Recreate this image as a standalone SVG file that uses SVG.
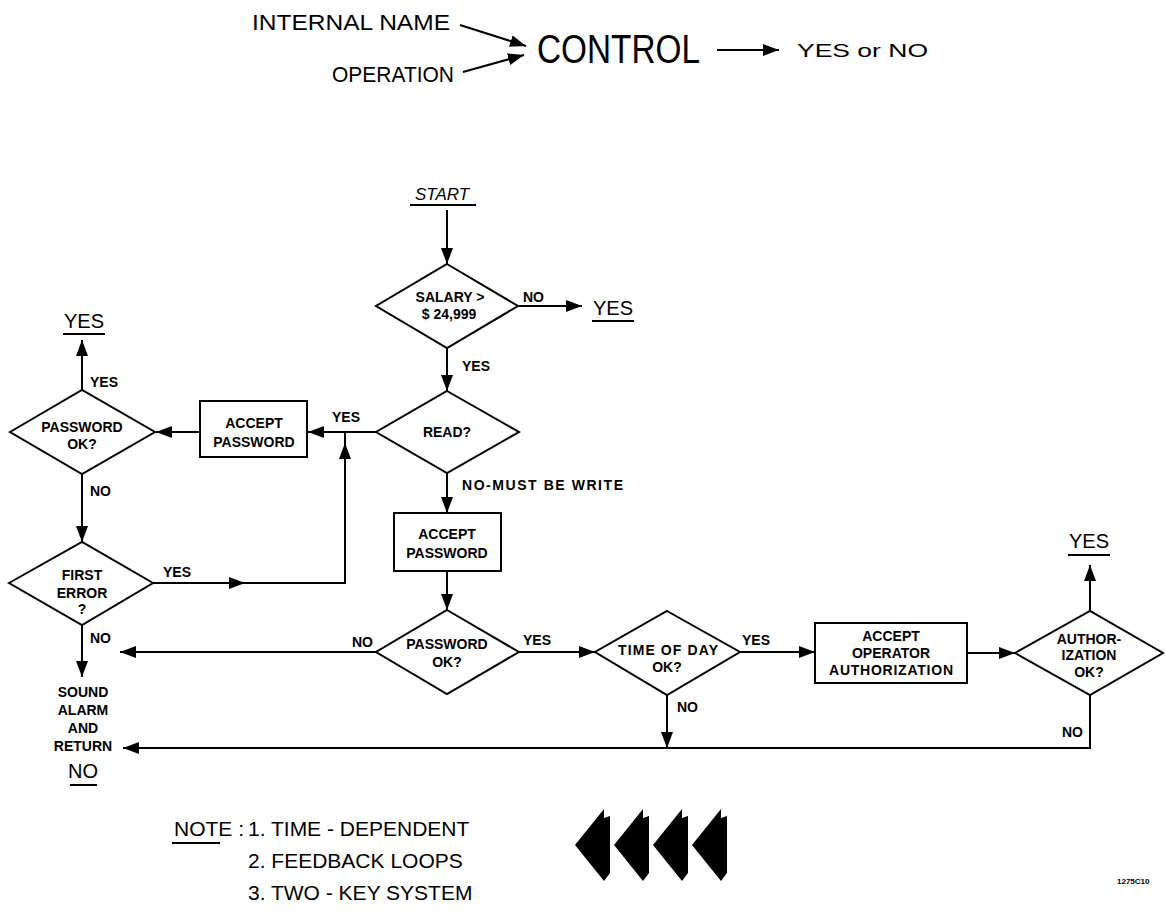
<svg xmlns="http://www.w3.org/2000/svg" width="1165" height="911" viewBox="0 0 1165 911">
<defs>
<marker id="ah" markerUnits="userSpaceOnUse" markerWidth="16" markerHeight="12" refX="16" refY="6" orient="auto">
<path d="M0,0 L16,6 L0,12 Z" fill="#000"/>
</marker>
<style>
.t{font-family:"Liberation Sans",Arial,sans-serif;fill:#000}
.s{font-size:14px;font-weight:bold}
.m{text-anchor:middle}
.sh{fill:#fff;stroke:#000;stroke-width:2}
.c{fill:none;stroke:#000;stroke-width:2}
.u{stroke:#000;stroke-width:2}
</style>
</defs>
<rect width="1165" height="911" fill="#fff"/>

<g id="header">
<text class="t" x="252" y="30" font-size="22" textLength="198" lengthAdjust="spacingAndGlyphs">INTERNAL NAME</text>
<text class="t" x="332" y="82" font-size="22" textLength="122" lengthAdjust="spacingAndGlyphs">OPERATION</text>
<text class="t" x="537" y="63" font-size="40" textLength="163" lengthAdjust="spacingAndGlyphs">CONTROL</text>
<text class="t" x="797" y="57" font-size="19" textLength="131" lengthAdjust="spacingAndGlyphs">YES or NO</text>
<line class="c" x1="460" y1="25" x2="526" y2="46" marker-end="url(#ah)"/>
<line class="c" x1="463" y1="72" x2="524" y2="55" marker-end="url(#ah)"/>
<line class="c" x1="717" y1="50" x2="779" y2="50" marker-end="url(#ah)"/>
</g>

<g id="connectors">
<line class="c" x1="447" y1="210" x2="447" y2="264" marker-end="url(#ah)"/>
<line class="c" x1="518" y1="306" x2="582" y2="306" marker-end="url(#ah)"/>
<line class="c" x1="447" y1="348" x2="447" y2="391" marker-end="url(#ah)"/>
<line class="c" x1="376" y1="432" x2="308" y2="432" marker-end="url(#ah)"/>
<line class="c" x1="200" y1="432" x2="156" y2="432" marker-end="url(#ah)"/>
<line class="c" x1="82" y1="390" x2="82" y2="340" marker-end="url(#ah)"/>
<line class="c" x1="82" y1="474" x2="82" y2="542" marker-end="url(#ah)"/>
<line class="c" x1="153" y1="583" x2="245" y2="583" marker-end="url(#ah)"/>
<path class="c" d="M240,583 L345,583 L345,443" marker-end="url(#ah)"/>
<line class="c" x1="345" y1="444" x2="345" y2="432"/>
<line class="c" x1="82" y1="625" x2="82" y2="677" marker-end="url(#ah)"/>
<line class="c" x1="447" y1="473" x2="447" y2="513" marker-end="url(#ah)"/>
<line class="c" x1="447" y1="571" x2="447" y2="610" marker-end="url(#ah)"/>
<line class="c" x1="376" y1="652" x2="120" y2="652" marker-end="url(#ah)"/>
<line class="c" x1="519" y1="652" x2="595" y2="652" marker-end="url(#ah)"/>
<line class="c" x1="740" y1="652" x2="815" y2="652" marker-end="url(#ah)"/>
<line class="c" x1="967" y1="653" x2="1015" y2="653" marker-end="url(#ah)"/>
<line class="c" x1="1090" y1="611" x2="1090" y2="565" marker-end="url(#ah)"/>
<line class="c" x1="667" y1="695" x2="667" y2="748" marker-end="url(#ah)"/>
<path class="c" d="M1090,695 L1090,748 L123,748" marker-end="url(#ah)"/>
</g>

<g id="start">
<text class="t m" x="442" y="200" font-size="17" font-style="italic">START</text>
<line class="u" x1="410" y1="205" x2="476" y2="205"/>
</g>

<g id="salary">
<polygon class="sh" points="447,264 518,306 447,348 376,306"/>
<text class="t s m" x="450" y="302">SALARY &gt;</text>
<text class="t s m" x="449" y="319">$ 24,999</text>
<text class="t s" x="523" y="302">NO</text>
<text class="t s" x="462" y="371">YES</text>
</g>

<g id="yes-top">
<text class="t" x="593" y="315" font-size="20">YES</text>
<line class="u" x1="592" y1="321" x2="634" y2="321"/>
</g>

<g id="read">
<polygon class="sh" points="447,391 519,432 447,473 376,432"/>
<text class="t s m" x="447" y="437">READ?</text>
<text class="t s" x="332" y="422">YES</text>
<text class="t s" x="462" y="490" textLength="161" lengthAdjust="spacing">NO-MUST BE WRITE</text>
</g>

<g id="accept-left">
<rect class="sh" x="200" y="401" width="107" height="56"/>
<text class="t s m" x="254" y="428">ACCEPT</text>
<text class="t s m" x="254" y="447">PASSWORD</text>
</g>

<g id="password-left">
<polygon class="sh" points="10,432 82,390 155,432 82,474"/>
<text class="t s m" x="82" y="432">PASSWORD</text>
<text class="t s m" x="82" y="449">OK?</text>
<text class="t s" x="90" y="387">YES</text>
<text class="t s" x="90" y="496">NO</text>
</g>

<g id="yes-left">
<text class="t m" x="84" y="328" font-size="20">YES</text>
<line class="u" x1="63" y1="334" x2="105" y2="334"/>
</g>

<g id="first-error">
<polygon class="sh" points="9,583 82,542 153,583 82,625"/>
<text class="t s m" x="82" y="580">FIRST</text>
<text class="t s m" x="82" y="598">ERROR</text>
<text class="t s m" x="82" y="614">?</text>
<text class="t s" x="163" y="577">YES</text>
<text class="t s" x="90" y="643">NO</text>
</g>

<g id="alarm">
<text class="t s m" x="83" y="697">SOUND</text>
<text class="t s m" x="83" y="715">ALARM</text>
<text class="t s m" x="83" y="733">AND</text>
<text class="t s m" x="83" y="751">RETURN</text>
<text class="t m" x="83" y="778" font-size="20">NO</text>
<line class="u" x1="70" y1="785" x2="97" y2="785"/>
</g>

<g id="accept-mid">
<rect class="sh" x="394" y="513" width="107" height="58"/>
<text class="t s m" x="447" y="539">ACCEPT</text>
<text class="t s m" x="447" y="558">PASSWORD</text>
</g>

<g id="password-mid">
<polygon class="sh" points="447,610 519,652 447,694 376,652"/>
<text class="t s m" x="447" y="649">PASSWORD</text>
<text class="t s m" x="447" y="667">OK?</text>
<text class="t s" x="352" y="647">NO</text>
<text class="t s" x="523" y="645">YES</text>
</g>

<g id="time-of-day">
<polygon class="sh" points="667,611 740,652 667,695 595,652"/>
<text class="t s m" x="668" y="655" textLength="100" lengthAdjust="spacing">TIME OF DAY</text>
<text class="t s m" x="667" y="672">OK?</text>
<text class="t s" x="742" y="645">YES</text>
<text class="t s" x="677" y="712">NO</text>
</g>

<g id="accept-operator">
<rect class="sh" x="815" y="623" width="152" height="60"/>
<text class="t s m" x="891" y="641">ACCEPT</text>
<text class="t s m" x="891" y="658">OPERATOR</text>
<text class="t s m" x="891" y="675" textLength="124" lengthAdjust="spacing">AUTHORIZATION</text>
</g>

<g id="authorization">
<polygon class="sh" points="1015,653 1090,611 1163,653 1090,695"/>
<text class="t s m" x="1089" y="644">AUTHOR-</text>
<text class="t s m" x="1089" y="660">IZATION</text>
<text class="t s m" x="1089" y="677">OK?</text>
<text class="t s" x="1062" y="737">NO</text>
</g>

<g id="yes-right">
<text class="t m" x="1089" y="548" font-size="20">YES</text>
<line class="u" x1="1068" y1="555" x2="1110" y2="555"/>
</g>

<g id="note">
<text class="t" x="174" y="836" font-size="21">NOTE :</text>
<line class="u" x1="172" y1="843" x2="220" y2="843"/>
<text class="t" x="248" y="836" font-size="21">1.  TIME - DEPENDENT</text>
<text class="t" x="248" y="868" font-size="21">2. FEEDBACK LOOPS</text>
<text class="t" x="248" y="900" font-size="21">3. TWO - KEY SYSTEM</text>
</g>

<g id="big-arrows" fill="#000">
<polygon points="575,845 604,809 604,818 610,816 610,873 604,881"/>
<polygon points="614,845 643,809 643,818 649,816 649,873 643,881"/>
<polygon points="653,845 682,809 682,818 688,816 688,873 682,881"/>
<polygon points="692,845 721,809 721,818 727,816 727,873 721,881"/>
</g>

<text class="t" x="1117" y="884" font-size="8" font-weight="bold">1275C10</text>
</svg>
